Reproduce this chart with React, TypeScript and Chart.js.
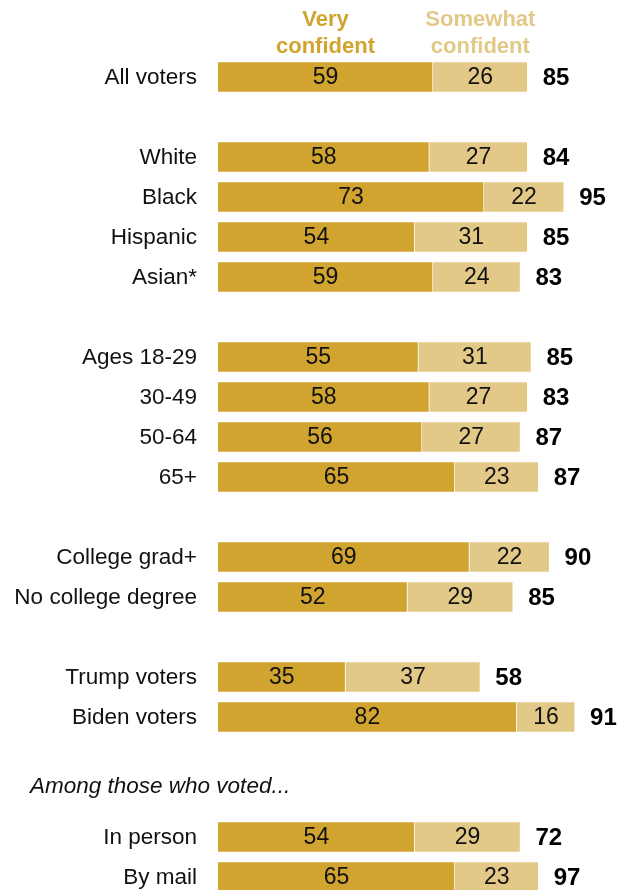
import React, { useEffect, useRef } from 'react';
import { Chart, registerables } from 'chart.js';

Chart.register(...registerables);

const categories = [
  'All voters', '', 'White', 'Black', 'Hispanic', 'Asian*', '',
  'Ages 18-29', '30-49', '50-64', '65+', '',
  'College grad+', 'No college degree', '',
  'Trump voters', 'Biden voters', '', '',
  'In person', 'By mail',
];
const veryConfident = [59, null, 58, 73, 54, 59, null, 55, 58, 56, 65, null, 69, 52, null, 35, 82, null, null, 54, 65];
const somewhatConfident = [26, null, 27, 22, 31, 24, null, 31, 27, 27, 23, null, 22, 29, null, 37, 16, null, null, 29, 23];
const totals = [85, null, 84, 95, 85, 83, null, 85, 83, 87, 87, null, 90, 85, null, 58, 91, null, null, 72, 97];
const seriesNames = ['Very confident', 'Somewhat confident'];
const legendLines = [['Very', 'confident'], ['Somewhat', 'confident']];
const sectionNote = 'Among those who voted...';
const sectionNoteIndex = 18;

const DARK = '#D1A42F';
const LIGHT = '#E3C987';
const FONT = '"Liberation Sans", Arial, sans-serif';

const labelPlugin = {
  id: 'labelPlugin',
  afterDatasetsDraw(chart: any) {
    const ctx = chart.ctx;
    const x = chart.scales.x;
    const y = chart.scales.y;
    ctx.save();
    ctx.textBaseline = 'middle';

    chart.data.datasets.forEach((ds: any, di: number) => {
      const meta = chart.getDatasetMeta(di);
      meta.data.forEach((el: any, i: number) => {
        const v = ds.data[i];
        if (v == null) return;
        ctx.fillStyle = '#111';
        ctx.font = `23px ${FONT}`;
        ctx.textAlign = 'center';
        ctx.fillText(String(v), (el.base + el.x) / 2, el.y + 1);
      });
    });

    totals.forEach((t, i) => {
      if (t == null) return;
      const end = x.getPixelForValue((veryConfident[i] || 0) + (somewhatConfident[i] || 0));
      ctx.fillStyle = '#000';
      ctx.font = `bold 24px ${FONT}`;
      ctx.textAlign = 'left';
      ctx.fillText(String(t), end + 15, y.getPixelForValue(i) + 1);
    });

    categories.forEach((c, i) => {
      if (!c) return;
      ctx.fillStyle = '#111';
      ctx.font = `22.5px ${FONT}`;
      ctx.textAlign = 'right';
      ctx.fillText(c, x.left - 21, y.getPixelForValue(i) + 1);
    });

    ctx.font = `italic 22.5px ${FONT}`;
    ctx.textAlign = 'left';
    ctx.fillStyle = '#111';
    ctx.fillText(sectionNote, 30, y.getPixelForValue(sectionNoteIndex) - 10);

    const colors = [DARK, LIGHT];
    chart.data.datasets.forEach((_ds: any, di: number) => {
      const el = chart.getDatasetMeta(di).data[0];
      const cx = (el.base + el.x) / 2;
      ctx.fillStyle = colors[di];
      ctx.font = `bold 22px ${FONT}`;
      ctx.textAlign = 'center';
      ctx.fillText(legendLines[di][0], cx, 20);
      ctx.fillText(legendLines[di][1], cx, 47);
    });

    ctx.restore();
  },
};

export default function App() {
  const ref = useRef<HTMLCanvasElement>(null);
  useEffect(() => {
    document.body.style.margin = '0';
    const chart = new Chart(ref.current as HTMLCanvasElement, {
      type: 'bar',
      data: {
        labels: categories,
        datasets: [
          {
            label: seriesNames[0],
            data: veryConfident,
            backgroundColor: DARK,
            borderColor: 'rgba(255,255,255,0.45)',
            borderWidth: 1,
            barThickness: 31,
            clip: false,
          } as any,
          {
            label: seriesNames[1],
            data: somewhatConfident,
            backgroundColor: LIGHT,
            borderColor: 'rgba(255,255,255,0.45)',
            borderWidth: 1,
            barThickness: 31,
            clip: false,
          } as any,
        ],
      },
      options: {
        indexAxis: 'y',
        responsive: false,
        animation: false,
        devicePixelRatio: 1,
        layout: { padding: { left: 218, right: 43.6, top: 77, bottom: 13 } },
        plugins: { legend: { display: false }, tooltip: { enabled: false } },
        scales: {
          x: { stacked: true, min: 0, max: 100, display: false },
          y: { stacked: true, offset: false, display: false, grid: { display: false } },
        },
      },
      plugins: [labelPlugin],
    });
    return () => chart.destroy();
  }, []);
  return <canvas ref={ref} width={626} height={890} />;
}
